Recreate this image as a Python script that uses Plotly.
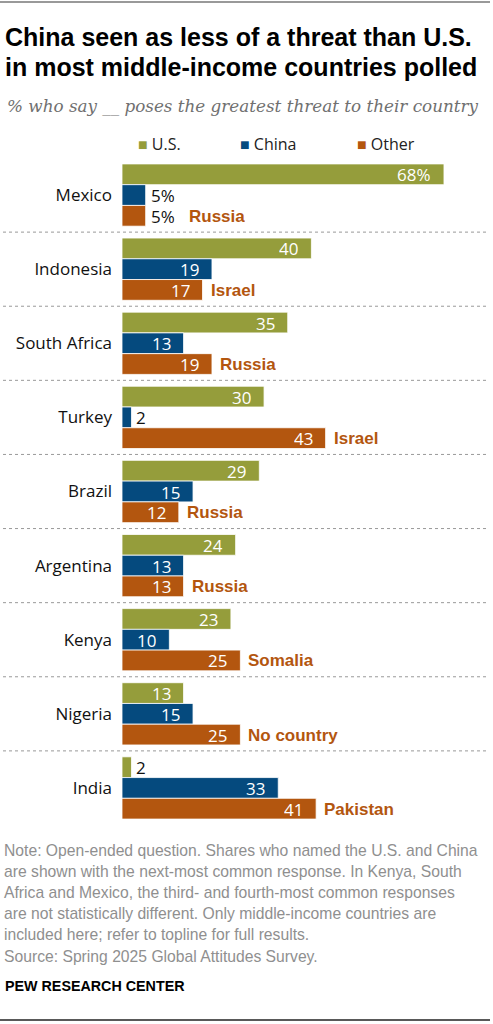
import plotly.graph_objects as go

W, H = 493, 1024

countries = ["Mexico", "Indonesia", "South Africa", "Turkey", "Brazil",
             "Argentina", "Kenya", "Nigeria", "India"]
us_vals = [68, 40, 35, 30, 29, 24, 23, 13, 2]
china_vals = [5, 19, 13, 2, 15, 13, 10, 15, 33]
other_vals = [5, 17, 19, 43, 12, 13, 25, 25, 41]
other_names = ["Russia", "Israel", "Russia", "Israel", "Russia",
               "Russia", "Somalia", "No country", "Pakistan"]

series_names = ["U.S.", "China", "Other"]
colors = ["#959D3B", "#054A7E", "#B3560F"]

title_lines = ["China seen as less of a threat than U.S.",
               "in most middle-income countries polled"]
subtitle = "% who say __ poses the greatest threat to their country"
note_lines = [
    "Note: Open-ended question. Shares who named the U.S. and China",
    "are shown with the next-most common response. In Kenya, South",
    "Africa and Mexico, the third- and fourth-most common responses",
    "are not statistically different. Only middle-income countries are",
    "included here; refer to topline for full results.",
    "Source: Spring 2025 Global Attitudes Survey.",
]

FONT = "Open Sans"
SANS = "Liberation Sans"
# plot area in pixels
px_left, px_top, px_bottom = 122, 158, 825
px_per_unit = 4.735
bargap = 0.16

fig = go.Figure()
for name, vals, col in zip(series_names, [us_vals, china_vals, other_vals], colors):
    fig.add_trace(go.Bar(
        y=countries, x=vals, name=name, orientation="h",
        marker=dict(color=col, line=dict(color="rgba(255,255,255,0.8)", width=1)),
        showlegend=False, hoverinfo="skip",
    ))

pitch = (px_bottom - px_top) / len(countries)
slot = pitch * (1 - bargap) / 3
shifts = [slot, 0, -slot]

ann = []
for k, vals in enumerate([us_vals, china_vals, other_vals]):
    for i, (c, v) in enumerate(zip(countries, vals)):
        txt = f"{v}%" if i == 0 else str(v)
        inside = v >= 8
        ann.append(dict(
            x=v, y=c, xref="x", yref="y", text=txt, showarrow=False,
            xanchor="right" if inside else "left",
            xshift=-12 if inside else 4, yshift=shifts[k],
            height=18, valign="middle", borderpad=0,
            font=dict(family=FONT, size=17, color="white" if inside else "#111"),
        ))

# next-most common response names
for i, (c, v, nm) in enumerate(zip(countries, other_vals, other_names)):
    extra = 0 if v >= 8 else 35
    ann.append(dict(
        x=v, y=c, xref="x", yref="y", text=f"<b>{nm}</b>", showarrow=False,
        xanchor="left", xshift=7 + extra, yshift=shifts[2],
        height=18, valign="middle", borderpad=0,
        font=dict(family=SANS, size=17, color=colors[2]),
    ))

# legend built from colored squares
legend_x = [136, 238, 355]
for name, col, lx in zip(series_names, colors, legend_x):
    ann.append(dict(
        x=lx / W, y=1 - 144 / H, xref="paper", yref="paper", showarrow=False,
        xanchor="left", yanchor="middle",
        text=f"<span style='color:{col}'>■</span> {name}",
        font=dict(family=FONT, size=16, color="#222"),
    ))

# titles
for j, line in enumerate(title_lines):
    ann.append(dict(
        x=3 / W, y=1 - (37 + 29.5 * j) / H, xref="paper", yref="paper",
        showarrow=False, xanchor="left", yanchor="middle",
        text=f"<b>{line}</b>", font=dict(family=SANS, size=25, color="#000"),
    ))
ann.append(dict(
    x=5 / W, y=1 - 106 / H, xref="paper", yref="paper", showarrow=False,
    xanchor="left", yanchor="middle", text=f"<i>{subtitle}</i>",
    font=dict(family="DejaVu Serif", size=16.8, color="#707070"),
))

for j, line in enumerate(note_lines):
    ann.append(dict(
        x=2 / W, y=1 - (850 + 21.2 * j) / H, xref="paper", yref="paper",
        showarrow=False, xanchor="left", yanchor="middle", text=line,
        font=dict(family=SANS, size=15.7, color="#8f8f8f"),
    ))
ann.append(dict(
    x=3 / W, y=1 - 986 / H, xref="paper", yref="paper", showarrow=False,
    xanchor="left", yanchor="middle", text="<b>PEW RESEARCH CENTER</b>",
    font=dict(family=SANS, size=14.3, color="#000"),
))

shapes = []
for i in range(len(countries) - 1):
    shapes.append(dict(type="line", xref="paper", yref="y", x0=3 / W, x1=488 / W,
                       y0=i + 0.5, y1=i + 0.5,
                       line=dict(color="#999", width=1, dash="dot")))
shapes.append(dict(type="line", xref="paper", yref="paper", x0=0, x1=490 / W,
                   y0=1 - 2 / H, y1=1 - 2 / H, line=dict(color="#777", width=1.5)))
shapes.append(dict(type="line", xref="paper", yref="paper", x0=0, x1=490 / W,
                   y0=1 - 1020 / H, y1=1 - 1020 / H, line=dict(color="#222", width=1.5)))

fig.update_layout(
    width=W, height=H,
    margin=dict(l=0, r=0, t=0, b=0),
    paper_bgcolor="white", plot_bgcolor="white",
    barmode="group", bargap=bargap, bargroupgap=0,
    annotations=ann, shapes=shapes,
    xaxis=dict(domain=[px_left / W, 1], range=[0, (W - px_left) / px_per_unit],
               visible=False, fixedrange=True),
    yaxis=dict(domain=[1 - px_bottom / H, 1 - px_top / H], autorange="reversed",
               showgrid=False, zeroline=False, showline=False, ticks="",
               ticklabelstandoff=9,
               tickfont=dict(family=FONT, size=17, color="#111"), fixedrange=True),
)

# the page body has a default margin; remove it so the figure fills the window
fig.write_html("out.html", config={"displayModeBar": False},
               post_script="document.body.style.margin='0';")
